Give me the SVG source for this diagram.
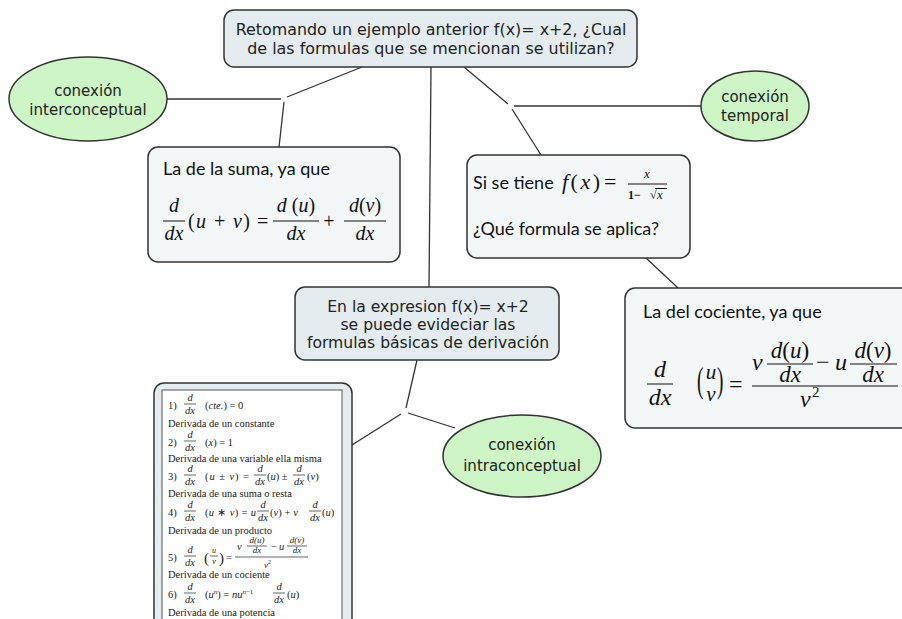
<svg xmlns="http://www.w3.org/2000/svg" width="902" height="619" viewBox="0 0 902 619">
<style>
.node{fill:#e4ecef;stroke:#333;stroke-width:1.5}
.fnode{fill:#f3f7f8;stroke:#333;stroke-width:1.5}
.ell{fill:#cdf5c6;stroke:#333;stroke-width:1.5}
.lbl{font-family:"DejaVu Sans",Verdana,sans-serif;font-size:15px;fill:#222;text-anchor:middle}
.big{font-size:15.9px}
.mid{font-size:15.6px}
.cal{font-family:Lato,"Open Sans",sans-serif;font-size:18px;fill:#111}
.m{font-family:"Liberation Serif","Times New Roman",serif;font-style:italic;fill:#111}
.r{font-style:normal}
.mc{text-anchor:middle}
.bar{stroke:#111;stroke-width:1}
.sm{font-family:"Liberation Serif","Times New Roman",serif;font-size:10.5px;fill:#222}
.sb{stroke:#222;stroke-width:0.7}
.conn line{stroke:#333;stroke-width:1.3}
</style>
<rect width="902" height="619" fill="#fff"/>
<g class="conn">
<line x1="362" y1="67" x2="287" y2="97"/>
<line x1="167" y1="99" x2="281" y2="99"/>
<line x1="284" y1="102" x2="279" y2="147"/>
<line x1="464" y1="67" x2="508" y2="104"/>
<line x1="514" y1="106" x2="701" y2="106"/>
<line x1="512" y1="109" x2="541" y2="155"/>
<line x1="431" y1="67" x2="429" y2="287"/>
<line x1="646" y1="258" x2="678" y2="288"/>
<line x1="417" y1="360" x2="406" y2="408"/>
<line x1="401" y1="414" x2="352" y2="445"/>
<line x1="408" y1="413" x2="455" y2="428"/>
</g>
<g id="top">
<rect class="node" x="224" y="10" width="413" height="57" rx="10"/>
<text class="lbl big" x="431" y="35">Retomando un ejemplo anterior f(x)= x+2, ¿Cual</text>
<text class="lbl big" x="431" y="54">de las formulas que se mencionan se utilizan?</text>
</g>
<g id="inter">
<ellipse class="ell" cx="88" cy="99" rx="79" ry="42"/>
<text class="lbl" x="88" y="96">conexión</text>
<text class="lbl" x="88" y="115">interconceptual</text>
</g>
<g id="temporal">
<ellipse class="ell" cx="755" cy="106" rx="54" ry="35"/>
<text class="lbl" x="755" y="102">conexión</text>
<text class="lbl" x="755" y="121">temporal</text>
</g>
<g id="suma">
<rect class="fnode" x="148" y="147" width="252" height="115" rx="10"/>
<text class="cal" x="163" y="175">La de la suma, ya que</text>
<g class="m" font-size="20">
<text class="mc" x="174" y="212">d</text>
<line class="bar" x1="163" y1="221" x2="185" y2="221"/>
<text class="mc" x="174" y="240">dx</text>
<text x="188" y="228" textLength="62"><tspan class="r">(</tspan>u <tspan class="r">+</tspan> v<tspan class="r">)</tspan></text>
<text class="r" x="257" y="228">=</text>
<text class="mc" x="296" y="212">d <tspan class="r">(</tspan>u<tspan class="r">)</tspan></text>
<line class="bar" x1="273" y1="221" x2="319" y2="221"/>
<text class="mc" x="296" y="240">dx</text>
<text class="r mc" x="329" y="228">+</text>
<text class="mc" x="365" y="212">d<tspan class="r">(</tspan>v<tspan class="r">)</tspan></text>
<line class="bar" x1="344" y1="221" x2="386" y2="221"/>
<text class="mc" x="365" y="240">dx</text>
</g>
</g>
<g id="pregunta">
<rect class="fnode" x="467" y="155" width="223" height="103" rx="10"/>
<text class="cal" x="473" y="189">Si se tiene</text>
<text class="m" font-size="22" x="562" y="189" textLength="38">f<tspan class="r">(</tspan>x<tspan class="r">)</tspan></text>
<text class="m r" font-size="22" x="604" y="189">=</text>
<text class="m mc" font-size="13" x="647" y="178">x</text>
<line class="bar" x1="628" y1="184" x2="667" y2="184"/>
<text class="m r" font-size="12" font-weight="bold" x="628" y="199">1−</text>
<text class="m r" font-size="12" x="650" y="199">√</text>
<text class="m" font-size="13" x="657" y="199">x</text>
<line class="bar" x1="655" y1="188.5" x2="667" y2="188.5"/>
<text class="cal" x="473" y="235">¿Qué formula se aplica?</text>
</g>
<g id="cociente">
<rect class="fnode" x="625" y="288" width="300" height="140" rx="10"/>
<text class="cal" x="643" y="318">La del cociente, ya que</text>
<g class="m" font-size="24">
<text class="mc" x="660" y="377">d</text>
<line class="bar" x1="647" y1="384" x2="673" y2="384"/>
<text class="mc" x="660" y="405">dx</text>
<text class="r" font-size="24" transform="translate(697,392) scale(0.8,1.5)">(</text>
<text class="mc" font-size="21" x="711" y="379">u</text>
<text class="mc" font-size="21" x="711" y="401">v</text>
<text class="r" font-size="24" transform="translate(717,392) scale(0.8,1.5)">)</text>
<text class="r" x="729" y="392">=</text>
<text x="752" y="370">v</text>
<text class="mc" font-size="23" x="790" y="358">d<tspan class="r">(</tspan>u<tspan class="r">)</tspan></text>
<line class="bar" x1="767" y1="364" x2="813" y2="364"/>
<text class="mc" font-size="23" x="790" y="382">dx</text>
<text class="r" x="816" y="370">−</text>
<text x="835" y="370">u</text>
<text class="mc" font-size="23" x="873" y="358">d<tspan class="r">(</tspan>v<tspan class="r">)</tspan></text>
<line class="bar" x1="850" y1="364" x2="897" y2="364"/>
<text class="mc" font-size="23" x="873" y="382">dx</text>
<line class="bar" x1="752" y1="386" x2="898" y2="386"/>
<text x="800" y="407">v</text>
<text class="r" font-size="15" x="812" y="397">2</text>
</g>
</g>
<g id="expresion">
<rect class="node" x="295" y="287" width="264" height="73" rx="10"/>
<text class="lbl mid" x="428" y="312">En la expresion f(x)= x+2</text>
<text class="lbl mid" x="428" y="330">se puede evideciar las</text>
<text class="lbl mid" x="428" y="348">formulas básicas de derivación</text>
</g>
<g id="intra">
<ellipse class="ell" cx="522" cy="456" rx="79" ry="41"/>
<text class="lbl" x="522" y="450">conexión</text>
<text class="lbl" x="522" y="471">intraconceptual</text>
</g>
<g id="formulas">
<rect class="node" x="154" y="383" width="198" height="260" rx="10"/>
<rect x="162" y="390" width="180" height="245" fill="#fff" stroke="#555" stroke-width="1"/>
<g class="sm">
<text x="168" y="409">1)</text>
<text class="mc" x="190" y="401" font-style="italic">d</text>
<line class="sb" x1="184" y1="404" x2="196" y2="404"/>
<text class="mc" x="190" y="414" font-style="italic">dx</text>
<text x="205" y="409">(<tspan font-style="italic">cte.</tspan>) = 0</text>
<text x="168" y="427">Derivada de un constante</text>

<text x="168" y="446">2)</text>
<text class="mc" x="190" y="438" font-style="italic">d</text>
<line class="sb" x1="184" y1="441" x2="196" y2="441"/>
<text class="mc" x="190" y="451" font-style="italic">dx</text>
<text x="205" y="446">(<tspan font-style="italic">x</tspan>) = 1</text>
<text x="168" y="462">Derivada de una variable ella misma</text>

<text x="168" y="480">3)</text>
<text class="mc" x="190" y="472" font-style="italic">d</text>
<line class="sb" x1="184" y1="475" x2="196" y2="475"/>
<text class="mc" x="190" y="485" font-style="italic">dx</text>
<text x="205" y="480" textLength="44">(<tspan font-style="italic">u</tspan> ± <tspan font-style="italic">v</tspan>) =</text>
<text class="mc" x="260" y="472" font-style="italic">d</text>
<line class="sb" x1="254" y1="475" x2="266" y2="475"/>
<text class="mc" x="260" y="485" font-style="italic">dx</text>
<text x="267" y="480">(<tspan font-style="italic">u</tspan>) ±</text>
<text class="mc" x="299" y="472" font-style="italic">d</text>
<line class="sb" x1="293" y1="475" x2="305" y2="475"/>
<text class="mc" x="299" y="485" font-style="italic">dx</text>
<text x="307" y="480">(<tspan font-style="italic">v</tspan>)</text>
<text x="168" y="497">Derivada de una suma o resta</text>

<text x="168" y="516">4)</text>
<text class="mc" x="190" y="508" font-style="italic">d</text>
<line class="sb" x1="184" y1="511" x2="196" y2="511"/>
<text class="mc" x="190" y="521" font-style="italic">dx</text>
<text x="205" y="516" textLength="51">(<tspan font-style="italic">u</tspan> ∗ <tspan font-style="italic">v</tspan>) = <tspan font-style="italic">u</tspan></text>
<text class="mc" x="263" y="508" font-style="italic">d</text>
<line class="sb" x1="257" y1="511" x2="269" y2="511"/>
<text class="mc" x="263" y="521" font-style="italic">dx</text>
<text x="270" y="516" textLength="28">(<tspan font-style="italic">v</tspan>) + <tspan font-style="italic">v</tspan></text>
<text class="mc" x="315" y="508" font-style="italic">d</text>
<line class="sb" x1="309" y1="511" x2="321" y2="511"/>
<text class="mc" x="315" y="521" font-style="italic">dx</text>
<text x="322" y="516">(<tspan font-style="italic">u</tspan>)</text>
<text x="168" y="534">Derivada de un producto</text>

<text x="168" y="561">5)</text>
<text class="mc" x="190" y="553" font-style="italic">d</text>
<line class="sb" x1="184" y1="556" x2="196" y2="556"/>
<text class="mc" x="190" y="566" font-style="italic">dx</text>
<text x="204" y="563" font-size="15">(</text>
<text class="mc" x="214" y="553" font-size="8" font-style="italic">u</text>
<line class="sb" x1="210" y1="556" x2="218" y2="556"/>
<text class="mc" x="214" y="564" font-size="8" font-style="italic">v</text>
<text x="219" y="563" font-size="15">)</text>
<text x="226" y="561">=</text>
<text x="237" y="550" font-style="italic">v</text>
<text class="mc" x="257" y="543" font-size="9" font-style="italic">d(u)</text>
<line class="sb" x1="247" y1="546" x2="267" y2="546"/>
<text class="mc" x="257" y="553" font-size="9" font-style="italic">dx</text>
<text x="271" y="550">−</text>
<text x="279" y="550" font-style="italic">u</text>
<text class="mc" x="297" y="543" font-size="9" font-style="italic">d(v)</text>
<line class="sb" x1="287" y1="546" x2="307" y2="546"/>
<text class="mc" x="297" y="553" font-size="9" font-style="italic">dx</text>
<line class="sb" x1="235" y1="557" x2="308" y2="557"/>
<text x="264" y="568" font-size="9" font-style="italic">v<tspan font-size="6" dy="-4" font-style="normal">2</tspan></text>
<text x="168" y="578">Derivada de un cociente</text>

<text x="168" y="598">6)</text>
<text class="mc" x="190" y="590" font-style="italic">d</text>
<line class="sb" x1="184" y1="593" x2="196" y2="593"/>
<text class="mc" x="190" y="603" font-style="italic">dx</text>
<text x="205" y="598">(<tspan font-style="italic">u</tspan><tspan font-size="7" dy="-4" font-style="italic">n</tspan><tspan dy="4">) = </tspan><tspan font-style="italic">nu</tspan><tspan font-size="7" dy="-4" font-style="italic">n</tspan><tspan font-size="7">−1</tspan></text>
<text class="mc" x="279" y="590" font-style="italic">d</text>
<line class="sb" x1="273" y1="593" x2="285" y2="593"/>
<text class="mc" x="279" y="603" font-style="italic">dx</text>
<text x="287" y="598">(<tspan font-style="italic">u</tspan>)</text>
<text x="168" y="616">Derivada de una potencia</text>
</g>
</g>
</svg>
